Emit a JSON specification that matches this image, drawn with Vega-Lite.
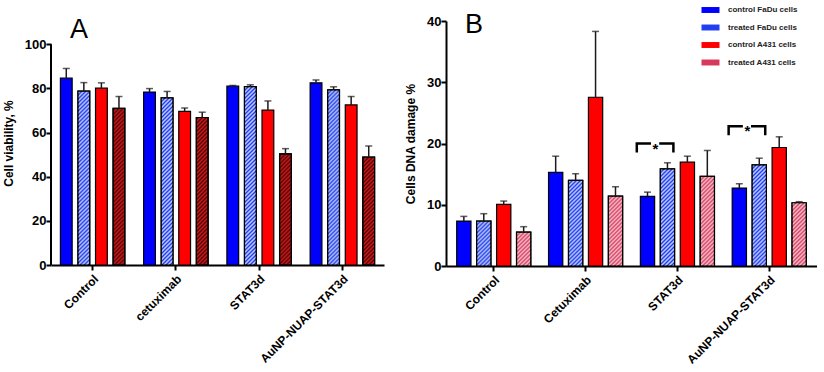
{
"$schema":"https://vega.github.io/schema/vega-lite/v6.json",
"background":"white",
"padding":{"left":2,"top":0,"right":0,"bottom":0},
"params":[
{"name":"W","value":[{"offset":0,"color":"#fff0"},{"offset":0.01,"color":"#fffb"},{"offset":0.02,"color":"#fff0"},{"offset":0.03,"color":"#fffb"},{"offset":0.04,"color":"#fff0"},{"offset":0.05,"color":"#fffb"},{"offset":0.06,"color":"#fff0"},{"offset":0.07,"color":"#fffb"},{"offset":0.08,"color":"#fff0"},{"offset":0.09,"color":"#fffb"},{"offset":0.1,"color":"#fff0"},{"offset":0.11,"color":"#fffb"},{"offset":0.12,"color":"#fff0"},{"offset":0.13,"color":"#fffb"},{"offset":0.14,"color":"#fff0"},{"offset":0.15,"color":"#fffb"},{"offset":0.16,"color":"#fff0"},{"offset":0.17,"color":"#fffb"},{"offset":0.18,"color":"#fff0"},{"offset":0.19,"color":"#fffb"},{"offset":0.2,"color":"#fff0"},{"offset":0.21,"color":"#fffb"},{"offset":0.22,"color":"#fff0"},{"offset":0.23,"color":"#fffb"},{"offset":0.24,"color":"#fff0"},{"offset":0.25,"color":"#fffb"},{"offset":0.26,"color":"#fff0"},{"offset":0.27,"color":"#fffb"},{"offset":0.28,"color":"#fff0"},{"offset":0.29,"color":"#fffb"},{"offset":0.3,"color":"#fff0"},{"offset":0.31,"color":"#fffb"},{"offset":0.32,"color":"#fff0"},{"offset":0.33,"color":"#fffb"},{"offset":0.34,"color":"#fff0"},{"offset":0.35,"color":"#fffb"},{"offset":0.36,"color":"#fff0"},{"offset":0.37,"color":"#fffb"},{"offset":0.38,"color":"#fff0"},{"offset":0.39,"color":"#fffb"},{"offset":0.4,"color":"#fff0"},{"offset":0.41,"color":"#fffb"},{"offset":0.42,"color":"#fff0"},{"offset":0.43,"color":"#fffb"},{"offset":0.44,"color":"#fff0"},{"offset":0.45,"color":"#fffb"},{"offset":0.46,"color":"#fff0"},{"offset":0.47,"color":"#fffb"},{"offset":0.48,"color":"#fff0"},{"offset":0.49,"color":"#fffb"},{"offset":0.5,"color":"#fff0"},{"offset":0.51,"color":"#fffb"},{"offset":0.52,"color":"#fff0"},{"offset":0.53,"color":"#fffb"},{"offset":0.54,"color":"#fff0"},{"offset":0.55,"color":"#fffb"},{"offset":0.56,"color":"#fff0"},{"offset":0.57,"color":"#fffb"},{"offset":0.58,"color":"#fff0"},{"offset":0.59,"color":"#fffb"},{"offset":0.6,"color":"#fff0"},{"offset":0.61,"color":"#fffb"},{"offset":0.62,"color":"#fff0"},{"offset":0.63,"color":"#fffb"},{"offset":0.64,"color":"#fff0"},{"offset":0.65,"color":"#fffb"},{"offset":0.66,"color":"#fff0"},{"offset":0.67,"color":"#fffb"},{"offset":0.68,"color":"#fff0"},{"offset":0.69,"color":"#fffb"},{"offset":0.7,"color":"#fff0"},{"offset":0.71,"color":"#fffb"},{"offset":0.72,"color":"#fff0"},{"offset":0.73,"color":"#fffb"},{"offset":0.74,"color":"#fff0"},{"offset":0.75,"color":"#fffb"},{"offset":0.76,"color":"#fff0"},{"offset":0.77,"color":"#fffb"},{"offset":0.78,"color":"#fff0"},{"offset":0.79,"color":"#fffb"},{"offset":0.8,"color":"#fff0"},{"offset":0.81,"color":"#fffb"},{"offset":0.82,"color":"#fff0"},{"offset":0.83,"color":"#fffb"},{"offset":0.84,"color":"#fff0"},{"offset":0.85,"color":"#fffb"},{"offset":0.86,"color":"#fff0"},{"offset":0.87,"color":"#fffb"},{"offset":0.88,"color":"#fff0"},{"offset":0.89,"color":"#fffb"},{"offset":0.9,"color":"#fff0"},{"offset":0.91,"color":"#fffb"},{"offset":0.92,"color":"#fff0"},{"offset":0.93,"color":"#fffb"},{"offset":0.94,"color":"#fff0"},{"offset":0.95,"color":"#fffb"},{"offset":0.96,"color":"#fff0"},{"offset":0.97,"color":"#fffb"},{"offset":0.98,"color":"#fff0"},{"offset":0.99,"color":"#fffb"},{"offset":1,"color":"#fff0"}]},
{"name":"K","value":[{"offset":0,"color":"#0000"},{"offset":0.01,"color":"#000a"},{"offset":0.02,"color":"#0000"},{"offset":0.03,"color":"#000a"},{"offset":0.04,"color":"#0000"},{"offset":0.05,"color":"#000a"},{"offset":0.06,"color":"#0000"},{"offset":0.07,"color":"#000a"},{"offset":0.08,"color":"#0000"},{"offset":0.09,"color":"#000a"},{"offset":0.1,"color":"#0000"},{"offset":0.11,"color":"#000a"},{"offset":0.12,"color":"#0000"},{"offset":0.13,"color":"#000a"},{"offset":0.14,"color":"#0000"},{"offset":0.15,"color":"#000a"},{"offset":0.16,"color":"#0000"},{"offset":0.17,"color":"#000a"},{"offset":0.18,"color":"#0000"},{"offset":0.19,"color":"#000a"},{"offset":0.2,"color":"#0000"},{"offset":0.21,"color":"#000a"},{"offset":0.22,"color":"#0000"},{"offset":0.23,"color":"#000a"},{"offset":0.24,"color":"#0000"},{"offset":0.25,"color":"#000a"},{"offset":0.26,"color":"#0000"},{"offset":0.27,"color":"#000a"},{"offset":0.28,"color":"#0000"},{"offset":0.29,"color":"#000a"},{"offset":0.3,"color":"#0000"},{"offset":0.31,"color":"#000a"},{"offset":0.32,"color":"#0000"},{"offset":0.33,"color":"#000a"},{"offset":0.34,"color":"#0000"},{"offset":0.35,"color":"#000a"},{"offset":0.36,"color":"#0000"},{"offset":0.37,"color":"#000a"},{"offset":0.38,"color":"#0000"},{"offset":0.39,"color":"#000a"},{"offset":0.4,"color":"#0000"},{"offset":0.41,"color":"#000a"},{"offset":0.42,"color":"#0000"},{"offset":0.43,"color":"#000a"},{"offset":0.44,"color":"#0000"},{"offset":0.45,"color":"#000a"},{"offset":0.46,"color":"#0000"},{"offset":0.47,"color":"#000a"},{"offset":0.48,"color":"#0000"},{"offset":0.49,"color":"#000a"},{"offset":0.5,"color":"#0000"},{"offset":0.51,"color":"#000a"},{"offset":0.52,"color":"#0000"},{"offset":0.53,"color":"#000a"},{"offset":0.54,"color":"#0000"},{"offset":0.55,"color":"#000a"},{"offset":0.56,"color":"#0000"},{"offset":0.57,"color":"#000a"},{"offset":0.58,"color":"#0000"},{"offset":0.59,"color":"#000a"},{"offset":0.6,"color":"#0000"},{"offset":0.61,"color":"#000a"},{"offset":0.62,"color":"#0000"},{"offset":0.63,"color":"#000a"},{"offset":0.64,"color":"#0000"},{"offset":0.65,"color":"#000a"},{"offset":0.66,"color":"#0000"},{"offset":0.67,"color":"#000a"},{"offset":0.68,"color":"#0000"},{"offset":0.69,"color":"#000a"},{"offset":0.7,"color":"#0000"},{"offset":0.71,"color":"#000a"},{"offset":0.72,"color":"#0000"},{"offset":0.73,"color":"#000a"},{"offset":0.74,"color":"#0000"},{"offset":0.75,"color":"#000a"},{"offset":0.76,"color":"#0000"},{"offset":0.77,"color":"#000a"},{"offset":0.78,"color":"#0000"},{"offset":0.79,"color":"#000a"},{"offset":0.8,"color":"#0000"},{"offset":0.81,"color":"#000a"},{"offset":0.82,"color":"#0000"},{"offset":0.83,"color":"#000a"},{"offset":0.84,"color":"#0000"},{"offset":0.85,"color":"#000a"},{"offset":0.86,"color":"#0000"}]}
],
"config":{
"font":"Liberation Sans",
"view":{"stroke":null},
"axis":{"labelFont":"Liberation Sans","titleFont":"Liberation Sans","labelFontWeight":"bold","labelFontSize":13,"labelColor":"black","titleFontWeight":"bold","titleFontSize":12,"titleColor":"black","domainColor":"black","domainWidth":2,"tickColor":"black","tickWidth":2,"tickSize":5,"grid":false,"labelPadding":0,"titlePadding":9},
"axisX":{"labelAngle":-45,"labelOverlap":false,"labelPadding":3,"labelFontSize":12},
"legend":{"labelFont":"Liberation Sans"},
"title":{"font":"Liberation Sans","fontWeight":"normal","fontSize":27,"anchor":"start","color":"black","frame":"group"}
},
"datasets":{
"a":[
{"group":"Control","series":"control FaDu cells","mean":84.6,"upper":89.0},
{"group":"Control","series":"treated FaDu cells","mean":78.7,"upper":82.6},
{"group":"Control","series":"control A431 cells","mean":80.1,"upper":82.5},
{"group":"Control","series":"treated A431 cells","mean":70.9,"upper":76.3},
{"group":"cetuximab","series":"control FaDu cells","mean":78.3,"upper":79.9},
{"group":"cetuximab","series":"treated FaDu cells","mean":75.7,"upper":78.6},
{"group":"cetuximab","series":"control A431 cells","mean":69.6,"upper":71.1},
{"group":"cetuximab","series":"treated A431 cells","mean":66.8,"upper":69.2},
{"group":"STAT3d","series":"control FaDu cells","mean":81.0,"upper":81.3},
{"group":"STAT3d","series":"treated FaDu cells","mean":80.8,"upper":81.6},
{"group":"STAT3d","series":"control A431 cells","mean":70.1,"upper":74.3},
{"group":"STAT3d","series":"treated A431 cells","mean":50.3,"upper":52.7},
{"group":"AuNP-NUAP-STAT3d","series":"control FaDu cells","mean":82.5,"upper":83.8},
{"group":"AuNP-NUAP-STAT3d","series":"treated FaDu cells","mean":79.3,"upper":80.7},
{"group":"AuNP-NUAP-STAT3d","series":"control A431 cells","mean":72.5,"upper":76.3},
{"group":"AuNP-NUAP-STAT3d","series":"treated A431 cells","mean":48.9,"upper":53.9}
],
"b":[
{"group":"Control","series":"control FaDu cells","mean":7.34,"upper":8.1},
{"group":"Control","series":"treated FaDu cells","mean":7.34,"upper":8.54},
{"group":"Control","series":"control A431 cells","mean":10.06,"upper":10.6},
{"group":"Control","series":"treated A431 cells","mean":5.54,"upper":6.42},
{"group":"Cetuximab","series":"control FaDu cells","mean":15.27,"upper":17.93},
{"group":"Cetuximab","series":"treated FaDu cells","mean":13.97,"upper":15.06},
{"group":"Cetuximab","series":"control A431 cells","mean":27.55,"upper":38.3},
{"group":"Cetuximab","series":"treated A431 cells","mean":11.41,"upper":12.94},
{"group":"STAT3d","series":"control FaDu cells","mean":11.36,"upper":12.06},
{"group":"STAT3d","series":"treated FaDu cells","mean":15.87,"upper":16.85},
{"group":"STAT3d","series":"control A431 cells","mean":16.95,"upper":17.93},
{"group":"STAT3d","series":"treated A431 cells","mean":14.62,"upper":18.86},
{"group":"AuNP-NUAP-STAT3d","series":"control FaDu cells","mean":12.72,"upper":13.43},
{"group":"AuNP-NUAP-STAT3d","series":"treated FaDu cells","mean":16.52,"upper":17.6},
{"group":"AuNP-NUAP-STAT3d","series":"control A431 cells","mean":19.35,"upper":21.09},
{"group":"AuNP-NUAP-STAT3d","series":"treated A431 cells","mean":10.33,"upper":10.5}
],
"stars":[
{"group":"STAT3d","series":"control FaDu cells","mean":20.0},
{"group":"AuNP-NUAP-STAT3d","series":"control FaDu cells","mean":22.8}
]
},
"spacing":20,
"columns":2,
"align":"none",
"concat":[
{
"width":333,"height":244,
"title":{"text":"A","dx":19,"offset":-22.5},
"data":{"name":"a"},
"encoding":{
"x":{"field":"group","type":"nominal","sort":["Control","cetuximab","STAT3d","AuNP-NUAP-STAT3d"],"scale":{"paddingInner":0,"paddingOuter":0},"axis":{"title":null}},
"xOffset":{"field":"series","type":"nominal","sort":["control FaDu cells","treated FaDu cells","control A431 cells","treated A431 cells"],"scale":{"paddingInner":0.33,"paddingOuter":0.535}},
"y":{"field":"mean","type":"quantitative","scale":{"domain":[0,110.5],"nice":false},"axis":{"title":"Cell viability, %","values":[0,20,40,60,80,100],"domain":false}}
},
"layer":[
{"mark":{"type":"bar","stroke":"black","strokeWidth":1.2},"encoding":{"color":{"field":"series","type":"nominal","scale":{"domain":["control FaDu cells","treated FaDu cells","control A431 cells","treated A431 cells"],"range":["#0000ff","#1f3ff0","#ff0000","#d81818"]},"legend":null}}},
{"transform":[{"filter":"datum.series=='treated FaDu cells' || datum.series=='treated A431 cells'"}],"mark":{"type":"bar","stroke":"black","strokeWidth":1.2,"fill":{"expr":"{gradient:'linear',x1:0,y1:0,x2:2360/(139.2+pow(2.208*datum.mean,2)),y2:441.6*datum.mean/(139.2+pow(2.208*datum.mean,2)),stops:(datum.series=='treated FaDu cells'?W:K)}"}}},
{"mark":{"type":"rule","color":"#1a1a1a","strokeWidth":1.5},"encoding":{"y2":{"field":"upper"}}},
{"mark":{"type":"tick","color":"#1a1a1a","thickness":1.5,"size":7,"orient":"horizontal"},"encoding":{"y":{"field":"upper","type":"quantitative"}}},
{"data":{"values":[{"lo":0,"hi":100}]},"mark":{"type":"rule","color":"black","strokeWidth":2},"encoding":{"x":{"datum":"Control","bandPosition":0},"xOffset":{"value":0},"y":{"field":"lo","type":"quantitative"},"y2":{"field":"hi"}}}
]
},
{
"width":371,"height":245,
"title":{"text":"B","dx":19,"offset":-38},
"data":{"name":"b"},
"encoding":{
"x":{"field":"group","type":"nominal","sort":["Control","Cetuximab","STAT3d","AuNP-NUAP-STAT3d"],"scale":{"paddingInner":0,"paddingOuter":0.02},"axis":{"title":null}},
"xOffset":{"field":"series","type":"nominal","sort":["control FaDu cells","treated FaDu cells","control A431 cells","treated A431 cells"],"scale":{"paddingInner":0.285,"paddingOuter":0.445}},
"y":{"field":"mean","type":"quantitative","scale":{"domain":[0,40],"nice":false},"axis":{"title":"Cells DNA damage  %","values":[0,10,20,30,40]}}
},
"layer":[
{"mark":{"type":"bar","stroke":"black","strokeWidth":1.2},"encoding":{"color":{"field":"series","type":"nominal","scale":{"domain":["control FaDu cells","treated FaDu cells","control A431 cells","treated A431 cells"],"range":["#0000ff","#1f3ff0","#ff0000","#d8385c"]},
"legend":{"orient":"none","legendX":255,"legendY":-20.5,"title":null,"symbolType":"M-1,-0.33H1V0.33H-1Z","symbolSize":324,"symbolStrokeColor":"#111","symbolStrokeWidth":1,"labelFontSize":8,"labelFontWeight":"bold","labelColor":"#222","labelOffset":8,"rowPadding":2.5,"padding":0,
"encode":{"symbols":{"update":{"fill":{"signal":"datum.value=='treated FaDu cells' ? {gradient:'linear',x1:0,y1:0,x2:10,y2:3.33,stops:[{offset:0,color:'#2030c0'},{offset:0.015,color:'#eef'},{offset:0.03,color:'#2030c0'},{offset:0.045,color:'#eef'},{offset:0.06,color:'#2030c0'},{offset:0.075,color:'#eef'},{offset:0.09,color:'#2030c0'},{offset:0.105,color:'#eef'},{offset:0.12,color:'#2030c0'},{offset:0.135,color:'#eef'}]} : datum.value=='treated A431 cells' ? {gradient:'linear',x1:0,y1:0,x2:10,y2:3.33,stops:[{offset:0,color:'#a01830'},{offset:0.015,color:'#f6c4d0'},{offset:0.03,color:'#a01830'},{offset:0.045,color:'#f6c4d0'},{offset:0.06,color:'#a01830'},{offset:0.075,color:'#f6c4d0'},{offset:0.09,color:'#a01830'},{offset:0.105,color:'#f6c4d0'},{offset:0.12,color:'#a01830'},{offset:0.135,color:'#f6c4d0'}]} : datum.value=='control FaDu cells' ? '#0008e0' : '#e80000'"}}}}}
}}},
{"transform":[{"filter":"datum.series=='treated FaDu cells' || datum.series=='treated A431 cells'"}],"mark":{"type":"bar","stroke":"black","strokeWidth":1.2,"fill":{"expr":"{gradient:'linear',x1:0,y1:0,x2:2850/(203+pow(6.135*datum.mean,2)),y2:1227*datum.mean/(203+pow(6.135*datum.mean,2)),stops:W}"}}},
{"mark":{"type":"rule","color":"#1a1a1a","strokeWidth":1.5},"encoding":{"y2":{"field":"upper"}}},
{"mark":{"type":"tick","color":"#1a1a1a","thickness":1.5,"size":7,"orient":"horizontal"},"encoding":{"y":{"field":"upper","type":"quantitative"}}},
{"data":{"name":"stars"},"mark":{"type":"point","shape":"M-1.07,0.9V0H0.35M1.17,0H2.59V0.9","size":400,"filled":false,"stroke":"black","strokeWidth":2.5,"opacity":1,"strokeJoin":"miter","strokeCap":"butt"}},
{"data":{"name":"stars"},"mark":{"type":"text","text":"*","fontSize":15,"fontWeight":"bold","dx":8,"dy":5,"color":"black","baseline":"middle"}}
]
}
],
"resolve":{"scale":{"color":"independent","x":"independent","y":"independent","xOffset":"independent"},"legend":{"color":"independent"}}
}
